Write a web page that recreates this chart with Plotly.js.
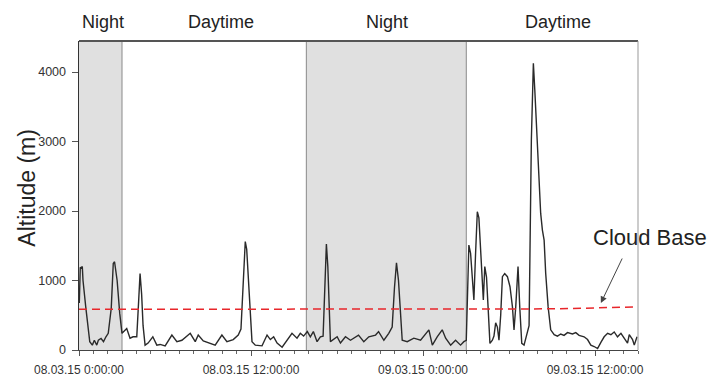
<!DOCTYPE html>
<html>
<head>
<meta charset="utf-8">
<script src="https://cdn.plot.ly/plotly-3.0.1.min.js"></script>
<style>html,body{margin:0;padding:0;background:#fff;}#chart{width:722px;height:377px;}</style>
</head>
<body>
<div id="chart"></div>
<script>
// Hours since 08.03.15 0:00:00
var hours = [0.02,0.09,0.14,0.23,0.28,0.47,0.63,0.75,0.93,1.07,1.24,1.35,1.54,1.71,1.88,2.04,2.25,2.39,2.48,2.66,2.84,3.0,
3.33,3.56,3.77,4.03,4.16,4.26,4.37,4.47,4.61,4.82,5.15,5.43,5.66,6.01,6.48,6.83,7.18,7.76,8.11,8.32,8.67,9.15,9.50,9.97,10.32,10.76,11.11,11.30,11.46,11.60,11.70,11.84,11.98,12.07,12.30,12.77,13.12,13.35,13.58,13.82,14.17,14.51,14.86,15.21,15.44,15.67,15.93,
16.14,16.35,16.61,16.84,17.03,17.16,17.26,17.36,17.47,17.54,18.01,18.24,18.59,18.94,19.50,19.87,20.22,20.69,20.90,21.27,21.61,21.85,22.01,22.15,22.29,22.43,22.55,22.90,23.36,23.83,24.41,24.65,24.99,25.34,25.58,25.93,26.27,26.62,26.85,27.02,
27.11,27.20,27.32,27.44,27.55,27.67,27.79,27.90,28.07,28.21,28.31,28.43,28.54,28.67,28.84,28.95,29.07,29.19,29.30,29.42,29.54,29.70,29.89,30.07,30.24,30.35,30.47,30.63,30.75,30.89,31.05,31.29,31.40,31.56,31.70,31.80,31.98,32.21,32.33,32.45,32.56,32.73,32.91,33.15,33.38,33.61,33.84,34.08,34.43,34.66,34.89,35.24,35.48,35.71,35.94,36.18,36.41,36.64,36.88,37.11,37.34,37.57,37.81,38.04,38.27,38.39,38.62,38.74,38.93];
var altitude = [675,1190,1180,1200,1000,620,290,120,70,140,70,140,165,120,190,240,600,1245,1270,1000,530,240,
310,170,190,190,700,1100,800,350,70,100,190,70,80,60,215,120,140,240,120,215,130,100,70,215,120,150,215,300,1000,1560,1450,900,400,120,70,60,215,150,190,100,40,130,240,170,240,200,265,
190,265,120,190,200,900,1525,1200,500,120,190,100,190,140,215,120,190,215,265,140,240,330,900,1255,1000,500,140,120,170,140,290,70,190,290,170,70,140,70,120,140,
800,1510,1390,1100,720,1400,1990,1900,1340,720,1200,1050,620,95,140,200,390,330,140,500,1055,1100,1055,910,620,290,620,1200,620,95,70,240,350,3020,4125,3740,2880,1965,1725,1580,1105,620,290,220,200,230,210,250,230,250,210,190,150,70,50,20,110,190,240,220,260,190,240,170,100,220,150,70,190];
var cloudHours = [0, 27, 33, 36, 39];
var cloudBase = [585, 585, 592, 605, 622];
var nightStart = [0, 15.86];
var nightEnd = [3.0, 27.02];
var periodLabels = ["Night", "Daytime", "Night", "Daytime"];
var periodCenters = [1.68, 9.92, 21.52, 33.4];
var yTicks = [0, 1000, 2000, 3000, 4000];

var base = Date.UTC(2015, 2, 8, 0, 0, 0);
function t(h) { return base + h * 3600000; }

var shapes = [];
for (var i = 0; i < nightStart.length; i++) {
  shapes.push({type: 'rect', xref: 'x', yref: 'paper', x0: t(nightStart[i]), x1: t(nightEnd[i]), y0: 0, y1: 1,
    fillcolor: '#e0e0e0', line: {width: 0}, layer: 'below'});
}
var borders = [nightEnd[0], nightStart[1], nightEnd[1]];
borders.forEach(function (b) {
  shapes.push({type: 'line', xref: 'x', yref: 'paper', x0: t(b), x1: t(b), y0: 0, y1: 1,
    line: {color: '#8a8a8a', width: 1}, layer: 'below'});
});
shapes.push({type: 'line', xref: 'paper', yref: 'paper', x0: 0, x1: 1, y0: 1, y1: 1, line: {color: '#555', width: 2}});
shapes.push({type: 'line', xref: 'paper', yref: 'paper', x0: 1, x1: 1, y0: 0, y1: 1, line: {color: '#999', width: 1}});

var font = 'Liberation Sans, Arial, sans-serif';
var annotations = [];
for (var j = 0; j < periodLabels.length; j++) {
  annotations.push({text: periodLabels[j], xref: 'x', yref: 'paper', x: t(periodCenters[j]), y: 1.062,
    yanchor: 'middle', xanchor: 'center', showarrow: false,
    font: {family: font, size: 18, color: '#222'}});
}
annotations.push({text: 'Altitude (m)', xref: 'paper', yref: 'paper', x: -0.092, y: 0.524, textangle: -90,
  xanchor: 'center', yanchor: 'middle', showarrow: false,
  font: {family: font, size: 23, color: '#222'}});
annotations.push({text: 'Cloud Base', xref: 'paper', yref: 'y', x: 1.0215, y: 1612, showarrow: false,
  xanchor: 'center', yanchor: 'middle',
  font: {family: font, size: 22, color: '#222'}});
annotations.push({text: '', xref: 'x', yref: 'y', x: t(36.41), y: 676, ax: 22, ay: -46,
  showarrow: true, arrowhead: 2, arrowsize: 1.3, arrowwidth: 1, arrowcolor: '#444', standoff: 0});

var traces = [
  {x: hours.map(t), y: altitude, type: 'scatter', mode: 'lines', line: {color: '#2a2a2a', width: 1.4}, hoverinfo: 'none'},
  {x: cloudHours.map(t), y: cloudBase, type: 'scatter', mode: 'lines', line: {color: '#e8262b', width: 1.5, dash: '8px,5px'}, hoverinfo: 'none'}
];

var layout = {
  width: 722, height: 377,
  margin: {l: 79, r: 84, t: 41, b: 27},
  paper_bgcolor: '#fff', plot_bgcolor: '#fff',
  showlegend: false,
  xaxis: {
    type: 'date', range: [t(0), t(39)],
    tickmode: 'linear', tick0: t(0), dtick: 43200000,
    tickformat: '%d.%m.%y %-H:%M:%S',
    ticks: 'outside', ticklen: 5, tickcolor: '#555', tickwidth: 1,
    minor: {dtick: 3600000, tick0: t(0), ticks: 'outside', ticklen: 3, tickcolor: '#666', showgrid: false},
    showline: true, linecolor: '#444', linewidth: 1,
    showgrid: false, zeroline: false,
    ticklabelstandoff: 4,
    tickfont: {family: font, size: 12, color: '#333'}
  },
  yaxis: {
    range: [0, 4446], tickmode: 'array', tickvals: yTicks,
    ticks: 'outside', ticklen: 6, tickcolor: '#555', tickwidth: 1,
    showline: true, linecolor: '#333', linewidth: 1.5,
    showgrid: false, zeroline: false,
    ticklabelstandoff: 3,
    tickfont: {family: font, size: 12.5, color: '#333'}
  },
  shapes: shapes,
  annotations: annotations
};

Plotly.newPlot('chart', traces, layout, {displayModeBar: false, staticPlot: true});
</script>
</body>
</html>
